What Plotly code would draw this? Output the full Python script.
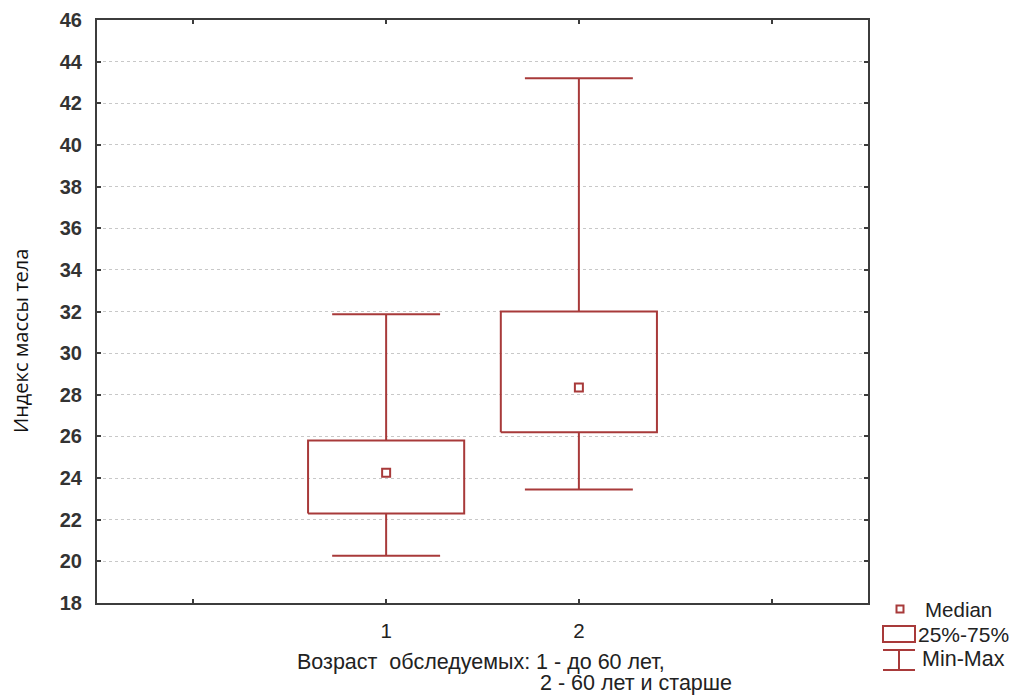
import plotly.graph_objects as go

# ---- data ----
categories = [1, 2]
q1_vals = [22.3, 26.2]
q3_vals = [25.8, 32.0]
median_vals = [24.25, 28.35]
min_vals = [20.27, 23.45]
max_vals = [31.87, 43.2]
y_ticks = [18, 20, 22, 24, 26, 28, 30, 32, 34, 36, 38, 40, 42, 44, 46]
x_tickvals = [0, 1, 2, 3]
x_ticktext = ["", "1", "2", ""]

BOX_COLOR = "#A83A3A"
FRAME = "#3c3c3c"
BOX_HW = 0.405
CAP_HW = 0.28

OFF = 8  # page body margin
PAGE_W, PAGE_H = 1019, 695
PL, PR, PT, PB = 97, 868, 20, 603  # plot area in page pixels
W, H = PAGE_W - OFF, PAGE_H - OFF
L, R, T, B = PL - OFF, PAGE_W - PR, PT - OFF, PAGE_H - PB
PW, PH = PR - PL, PB - PT

fig = go.Figure()

for c, lo, hi, mn, mx in zip(categories, q1_vals, q3_vals, min_vals, max_vals):
    fig.add_trace(go.Scatter(
        x=[c - BOX_HW, c + BOX_HW, c + BOX_HW, c - BOX_HW, c - BOX_HW],
        y=[lo, lo, hi, hi, lo], mode="lines",
        line=dict(color=BOX_COLOR, width=2), showlegend=False, hoverinfo="skip"))
    fig.add_trace(go.Scatter(
        x=[c, c, None, c, c, None, c - CAP_HW, c + CAP_HW, None, c - CAP_HW, c + CAP_HW],
        y=[hi, mx, None, lo, mn, None, mx, mx, None, mn, mn], mode="lines",
        line=dict(color=BOX_COLOR, width=2), showlegend=False, hoverinfo="skip"))

fig.add_trace(go.Scatter(
    x=categories, y=median_vals, mode="markers",
    marker=dict(symbol="square-open", size=8, color=BOX_COLOR, line=dict(width=2, color=BOX_COLOR)),
    showlegend=False, hoverinfo="skip"))

def px2x(px):
    return (px - PL) / PW

def px2y(py):
    return (PB - py) / PH

shapes = []
shapes.append(dict(type="rect", xref="paper", yref="paper",
                   x0=px2x(896.5), x1=px2x(903.5), y0=px2y(612.5), y1=px2y(605.5),
                   line=dict(color=BOX_COLOR, width=2)))
shapes.append(dict(type="rect", xref="paper", yref="paper",
                   x0=px2x(883), x1=px2x(915), y0=px2y(642), y1=px2y(626),
                   line=dict(color=BOX_COLOR, width=2)))
for yy in (650, 670):
    shapes.append(dict(type="line", xref="paper", yref="paper",
                       x0=px2x(883), x1=px2x(915), y0=px2y(yy), y1=px2y(yy),
                       line=dict(color=BOX_COLOR, width=2)))
shapes.append(dict(type="line", xref="paper", yref="paper",
                   x0=px2x(899), x1=px2x(899), y0=px2y(650), y1=px2y(670),
                   line=dict(color=BOX_COLOR, width=2)))

FAM = "Liberation Sans, Arial, sans-serif"
def tf(size):
    return dict(family=FAM, size=size, color="#222222")

annotations = [
    dict(text="Median", x=px2x(923), y=px2y(609), xref="paper", yref="paper",
         xanchor="left", yanchor="middle", showarrow=False, font=tf(20.5)),
    dict(text="25%-75%", x=px2x(916), y=px2y(634), xref="paper", yref="paper",
         xanchor="left", yanchor="middle", showarrow=False, font=tf(21)),
    dict(text="Min-Max", x=px2x(920), y=px2y(659), xref="paper", yref="paper",
         xanchor="left", yanchor="middle", showarrow=False, font=tf(21.5)),
    dict(text="Возраст  обследуемых: 1 - до 60 лет,", x=px2x(295), y=px2y(662),
         xref="paper", yref="paper", xanchor="left", yanchor="middle",
         showarrow=False, font=tf(21.5)),
    dict(text="2 - 60 лет и старше", x=px2x(538), y=px2y(683),
         xref="paper", yref="paper", xanchor="left", yanchor="middle",
         showarrow=False, font=tf(21.5)),
    dict(text="Индекс массы тела", x=px2x(21), y=px2y(341), xref="paper", yref="paper",
         xanchor="center", yanchor="middle", textangle=-90, showarrow=False,
         font=dict(family="Open Sans, sans-serif", size=20, color="#111111")),
]

fig.update_layout(
    width=W, height=H,
    margin=dict(l=L, r=R, t=T, b=B, autoexpand=False),
    plot_bgcolor="white", paper_bgcolor="white",
    shapes=shapes, annotations=annotations,
    showlegend=False,
)
fig.update_xaxes(
    range=[-0.5, 3.5], tickmode="array", tickvals=x_tickvals, ticktext=x_ticktext,
    showgrid=False, zeroline=False, showline=True, linecolor=FRAME, linewidth=2,
    mirror="ticks", ticks="inside", ticklen=4, tickwidth=2, tickcolor=FRAME,
    tickfont=tf(20.5), ticklabelstandoff=8, automargin=False,
)
fig.update_yaxes(
    range=[18, 46], tickmode="array", tickvals=y_ticks,
    ticktext=[f"<b>{v}</b>" for v in y_ticks],
    showgrid=True, gridcolor="#c8c8c8", griddash="dot", gridwidth=1,
    zeroline=False, showline=True, linecolor=FRAME, linewidth=2,
    mirror="ticks", ticks="inside", ticklen=4, tickwidth=2, tickcolor=FRAME,
    tickfont=dict(family=FAM, size=20, color="#333333"),
    ticklabelstandoff=9, automargin=False,
)

fig.write_html("out.html")
